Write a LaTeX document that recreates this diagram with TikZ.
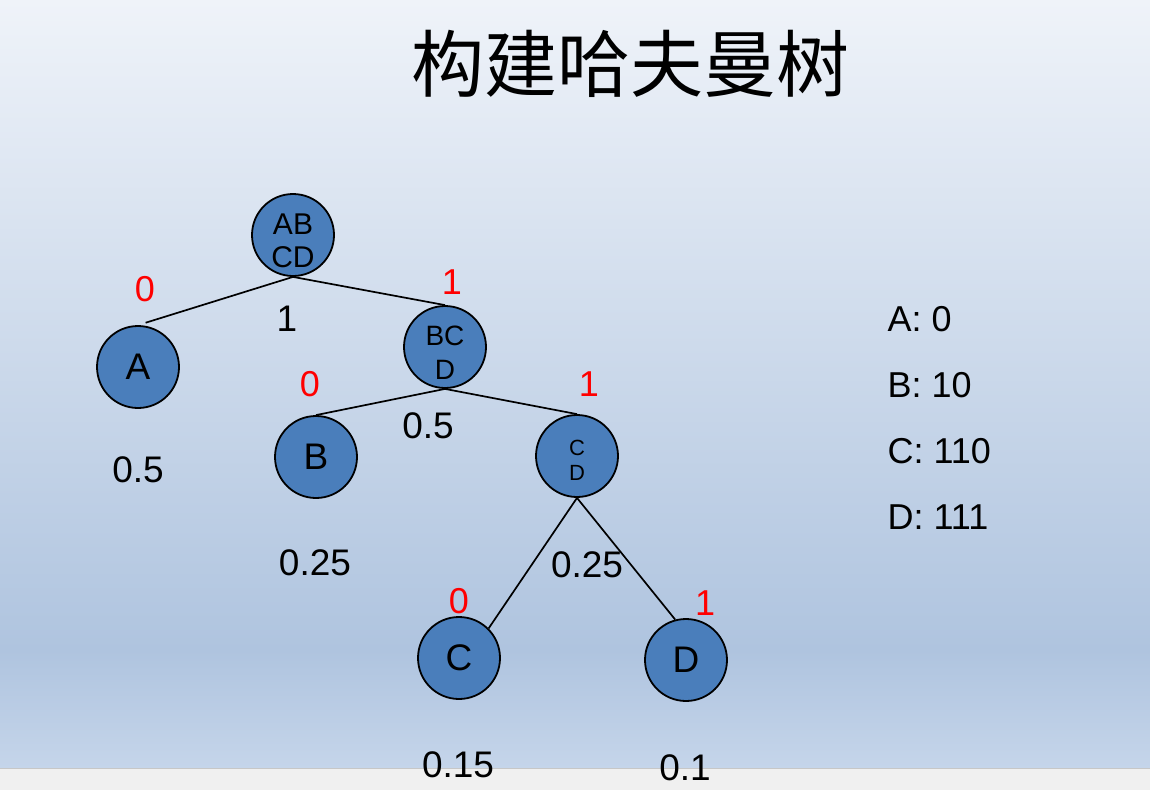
\documentclass[tikz,border=0pt]{standalone}
\usepackage{fontspec}
\setmainfont{Liberation Sans}
\newfontfamily\cjk{Noto Sans CJK SC}
\usetikzlibrary{positioning}

\definecolor{bgtop}{HTML}{EFF3F9}
\definecolor{bgmid}{HTML}{AFC4DF}
\definecolor{bgbot}{HTML}{C5D5EA}
\definecolor{nodeblue}{HTML}{4A7EBB}

% two lines in a node, lowered a little
\newcommand{\twoline}[3]{\raisebox{#1}[\height][\depth]{\begin{tabular}{@{}c@{}}#2\\#3\end{tabular}}}

\begin{document}
\begin{tikzpicture}[x=1pt, y=-1pt,
      huff/.style={circle, draw, line width=1.8pt, fill=nodeblue, minimum size=82pt,
        inner sep=0pt, text=black},
      bit/.style={text=red, font=\fontsize{36}{38}\selectfont},
      wt/.style={font=\fontsize{37}{40}\selectfont},
      code/.style={anchor=west, font=\fontsize{36}{38}\selectfont},
      edge/.style={line width=1.7pt}]
    % background
    \useasboundingbox (0,0) rectangle (1150,790);
    \shade[top color=bgtop, bottom color=bgmid] (0,0) rectangle (1150,650);
    \shade[top color=bgmid, bottom color=bgbot] (0,650) rectangle (1150,768);
    \fill[black!6] (0,768) rectangle (1150,790);
    \draw[black!22, line width=0.8pt] (0,768) -- (1150,768);

    \node[font=\cjk\fontsize{73}{76}\selectfont] (title) at (630,64) {构建哈夫曼树};

    % tree
    \node[huff, font=\fontsize{30}{33}\selectfont] (abcd) at (293,235) {\twoline{-9pt}{AB}{CD}};
    \node[huff, font=\fontsize{37}{40}\selectfont] (a) at (138,367) {A};
    \node[huff, font=\fontsize{28}{34}\selectfont] (bcd) at (445,347) {\twoline{-9pt}{BC}{D}};
    \node[huff, font=\fontsize{37}{40}\selectfont] (b) at (316,457) {B};
    \node[huff, font=\fontsize{22}{25}\selectfont] (cd) at (577,456) {\twoline{-7pt}{C}{D}};
    \node[huff, font=\fontsize{37}{40}\selectfont] (c) at (459,658) {C};
    \node[huff, font=\fontsize{37}{40}\selectfont] (d) at (686,660) {D};

    \draw[edge, shorten >=8pt] (abcd.south) -- (a.north);
    \draw[edge] (abcd.south) -- (bcd.north);
    \draw[edge] (bcd.south) -- (b.north);
    \draw[edge] (bcd.south) -- (cd.north);
    \draw[edge] (cd.south) -- (c.north east);
    \draw[edge] (cd.south) -- (d.105);

    % bits
    \node[bit] (bita) at (145,289) {0};
    \node[bit] (bitbcd) at (452,282) {1};
    \node[bit] (bitb) at (310,384) {0};
    \node[bit] (bitcd) at (589,384) {1};
    \node[bit] (bitc) at (459,601) {0};
    \node[bit] (bitd) at (705,603) {1};

    % weights
    \node[wt] (wabcd) at (287,319) {1};
    \node[wt] (wa) at (138,470) {0.5};
    \node[wt] (wbcd) at (428,426) {0.5};
    \node[wt] (wb) at (315,563) {0.25};
    \node[wt] (wcd) at (587,565) {0.25};
    \node[wt] (wc) at (458,765) {0.15};
    \node[wt] (wd) at (685,768) {0.1};

    % codes
    \node[code] (codea) at (884,319) {A: 0};
    \node[code, below=66pt of codea.west, anchor=west] (codeb) {B: 10};
    \node[code, below=66pt of codeb.west, anchor=west] (codec) {C: 110};
    \node[code, below=66pt of codec.west, anchor=west] (coded) {D: 111};
  \end{tikzpicture}
\end{document}
